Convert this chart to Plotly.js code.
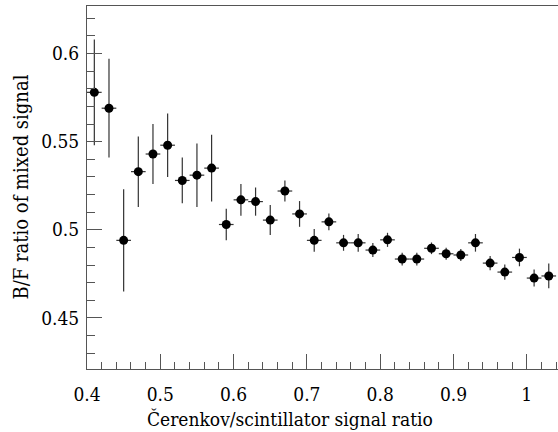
<!DOCTYPE html>
<html>
<head>
<meta charset="utf-8">
<script src="https://cdn.plot.ly/plotly-3.0.1.min.js"></script>
<style>html,body{margin:0;padding:0;background:#fff;}#chart{width:558px;height:432px;}</style>
</head>
<body>
<div id="chart"></div>
<script>
const cerenkovRatio = [0.41,0.43,0.45,0.47,0.49,0.51,0.53,0.55,0.57,0.59,0.61,0.63,0.65,0.67,0.69,0.71,0.73,0.75,0.77,0.79,0.81,0.83,0.85,0.87,0.89,0.91,0.93,0.95,0.97,0.99,1.01,1.03];
const bfRatio = [0.578,0.569,0.494,0.533,0.543,0.548,0.528,0.531,0.535,0.503,0.517,0.516,0.5055,0.522,0.509,0.494,0.5045,0.4926,0.4926,0.4885,0.4943,0.4834,0.4834,0.4895,0.4864,0.4857,0.4926,0.4811,0.476,0.4843,0.4726,0.4738];
const bfError = [0.030,0.028,0.029,0.020,0.017,0.018,0.013,0.018,0.019,0.009,0.009,0.008,0.0085,0.006,0.0073,0.0065,0.0047,0.0045,0.005,0.004,0.004,0.0036,0.0036,0.0033,0.0034,0.0034,0.005,0.004,0.0043,0.005,0.0048,0.007];
const binHalfWidth = 0.01;
const xTitle = "Čerenkov/scintillator signal ratio";
const yTitle = "B/F ratio of mixed signal";

const font = "DejaVu Serif Condensed";
const axCol = "#555";

const trace = {
  x: cerenkovRatio, y: bfRatio, type: "scatter", mode: "markers",
  marker: {color: "#000", size: 9},
  error_y: {type: "data", array: bfError, visible: true, color: "#333", thickness: 1.2, width: 0},
  error_x: {type: "constant", value: binHalfWidth, visible: true, color: "#333", thickness: 1.2, width: 0},
  hoverinfo: "x+y"
};

const layout = {
  width: 558, height: 432,
  margin: {l: 87, r: 0, t: 6, b: 63},
  paper_bgcolor: "#fff", plot_bgcolor: "#fff",
  showlegend: false,
  font: {family: font, size: 19, color: "#000"},
  xaxis: {
    range: [0.4, 1.0426], dtick: 0.1, tick0: 0.4,
    showgrid: false, zeroline: false,
    showline: true, linecolor: axCol, linewidth: 1, mirror: true,
    ticks: "inside", ticklen: 15, tickcolor: axCol, tickwidth: 1,
    minor: {dtick: 0.02, ticks: "inside", ticklen: 7, tickcolor: axCol, tickwidth: 1, showgrid: false},
    tickfont: {family: font, size: 19, color: "#000"},
    ticklabelstandoff: 8
  },
  yaxis: {
    range: [0.421, 0.627], dtick: 0.05, tick0: 0.45,
    showgrid: false, zeroline: false,
    showline: true, linecolor: axCol, linewidth: 1,
    ticks: "inside", ticklen: 15, tickcolor: axCol, tickwidth: 1,
    minor: {dtick: 0.01, ticks: "inside", ticklen: 8, tickcolor: axCol, tickwidth: 1, showgrid: false},
    tickfont: {family: font, size: 19, color: "#000"},
    ticklabelstandoff: 3
  },
  annotations: [
    {text: xTitle, xref: "paper", yref: "paper", x: 0.431, y: 0, xanchor: "center", yanchor: "middle", yshift: -50, showarrow: false, font: {family: font, size: 19, color: "#000"}},
    {text: yTitle, xref: "paper", yref: "paper", x: 0, y: 0.5, xanchor: "center", yanchor: "middle", xshift: -67, textangle: -90, showarrow: false, font: {family: font, size: 20, color: "#000"}}
  ]
};

Plotly.newPlot("chart", [trace], layout, {displayModeBar: false, staticPlot: true});
</script>
</body>
</html>
